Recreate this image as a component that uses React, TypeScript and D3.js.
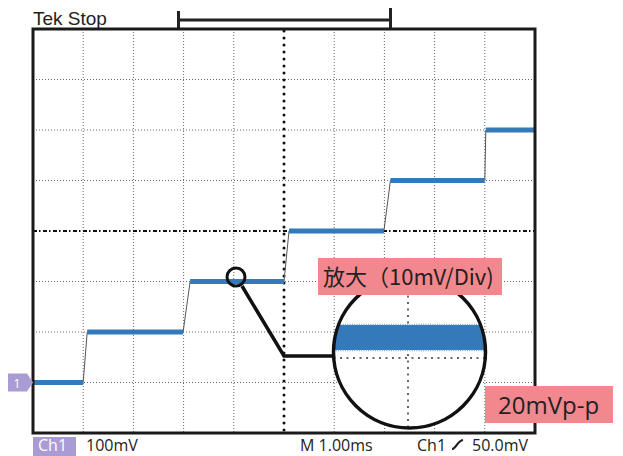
import { useEffect } from "react";
import * as d3 from "d3";

// step levels (mV) and where each plateau starts / ends (ms)
const levels = [0, 100, 200, 300, 400, 500];
const plateauStart = [0, 1.08, 3.13, 5.1, 7.12, 9.02];
const plateauEnd = [1.0, 2.99, 5.0, 6.99, 9.0, 10];

const timeTicks = [1, 2, 3, 4, 6, 7, 8, 9];
const voltTicks = [0, 100, 200, 400, 500, 600];
const centerTime = 5;
const centerVolt = 300;

// magnified noise band, 20mVp-p
const noiseBand = [-10, 10];

const W = 623;
const H = 456;

const App = () => {
  useEffect(() => {
    document.body.style.margin = "0";
  }, []);

  const x = d3.scaleLinear().domain([0, 10]).range([33, 535]);
  const y = d3.scaleLinear().domain([-100, 700]).range([433, 29]);

  const edgeLine = d3.line<[number, number]>()
    .x((d) => x(d[0]))
    .y((d) => y(d[1]));

  // magnified view
  const cx = 409.5;
  const cy = 352;
  const r = 76;
  const zy = d3.scaleLinear().domain([-10, 10]).range([350, 325]);

  const uiFont = "'Open Sans', 'Noto Sans', sans-serif";
  const cjkFont = "'Noto Sans CJK SC', 'Open Sans', sans-serif";

  return (
    <svg width={W} height={H} style={{ display: "block" }}>
      <rect width={W} height={H} fill="#fff" />

      {/* top header */}
      <text x={33} y={25} fontFamily="'Liberation Sans', Arial, sans-serif" fontSize={19} fill="#222">
        Tek Stop
      </text>
      <line x1={178} x2={391} y1={20} y2={20} stroke="#222" strokeWidth={3} />
      <line x1={178.5} x2={178.5} y1={11} y2={28} stroke="#222" strokeWidth={3} />
      <line x1={390.5} x2={390.5} y1={8} y2={28} stroke="#222" strokeWidth={3} />

      {/* grid */}
      {timeTicks.map((t) => (
        <line key={"vt" + t} x1={x(t)} x2={x(t)} y1={y(700)} y2={y(-100)}
          stroke="#666" strokeWidth={1} strokeDasharray="1,2" />
      ))}
      {voltTicks.map((v) => (
        <line key={"hv" + v} x1={x(0)} x2={x(10)} y1={y(v)} y2={y(v)}
          stroke="#666" strokeWidth={1} strokeDasharray="1,2" />
      ))}
      <line x1={x(0)} x2={x(10)} y1={y(centerVolt)} y2={y(centerVolt)}
        stroke="#111" strokeWidth={1.8} strokeDasharray="4,2,1.5,2.5" />
      <line x1={x(centerTime)} x2={x(centerTime)} y1={y(700) + 2} y2={y(-100) - 2}
        stroke="#111" strokeWidth={3} strokeLinecap="round" strokeDasharray="0,7" />

      {/* waveform edges */}
      {levels.slice(1).map((lv, i) => (
        <path key={"e" + i}
          d={edgeLine([[plateauEnd[i], levels[i]], [plateauStart[i + 1], lv]]) || ""}
          fill="none" stroke="#555" strokeWidth={1} />
      ))}
      {/* waveform plateaus */}
      {levels.map((lv, i) => (
        <line key={"p" + i} x1={x(plateauStart[i])} x2={x(plateauEnd[i])} y1={y(lv)} y2={y(lv)}
          stroke="#3479b9" strokeWidth={5} />
      ))}

      {/* frame */}
      <rect x={x(0)} y={y(700)} width={x(10) - x(0)} height={y(-100) - y(700)}
        fill="none" stroke="#1a1a1a" strokeWidth={3} />

      {/* channel marker */}
      <path d={`M8,${y(0) - 9} H27 L33,${y(0)} L27,${y(0) + 9} H8 Z`} fill="#a99bd3" />
      <text x={17} y={y(0) + 5} fontFamily={uiFont} fontSize={13} fill="#fff" textAnchor="middle">1</text>

      {/* connector to magnifier */}
      <circle cx={236} cy={277} r={9} fill="none" stroke="#111" strokeWidth={3} />
      <polyline points={`242,286 284,356 ${cx - r},356`} fill="none" stroke="#111" strokeWidth={3.5} />

      {/* magnifier */}
      <defs>
        <clipPath id="zoomClip">
          <circle cx={cx} cy={cy} r={r} />
        </clipPath>
      </defs>
      <circle cx={cx} cy={cy} r={r} fill="#fff" />
      <g clipPath="url(#zoomClip)">
        <line x1={cx - r} x2={cx + r} y1={358} y2={358} stroke="#666" strokeWidth={2}
          strokeDasharray="2,4.5" />
        <line x1={408} x2={408} y1={cy - r} y2={cy + r} stroke="#666" strokeWidth={2}
          strokeDasharray="2,4.5" />
        <rect x={cx - r} width={2 * r} y={zy(noiseBand[1])} height={zy(noiseBand[0]) - zy(noiseBand[1])}
          fill="#3479b9" />
        <line x1={cx - r} x2={cx + r} y1={zy(noiseBand[1]) - 0.5} y2={zy(noiseBand[1]) - 0.5}
          stroke="#7aa6d2" strokeWidth={1.5} strokeDasharray="1,1.3" />
        <line x1={cx - r} x2={cx + r} y1={zy(noiseBand[0]) + 0.5} y2={zy(noiseBand[0]) + 0.5}
          stroke="#7aa6d2" strokeWidth={1.5} strokeDasharray="1,1.3" />
      </g>
      <circle cx={cx} cy={cy} r={r} fill="none" stroke="#111" strokeWidth={3.5} />

      {/* labels */}
      <rect x={318} y={258} width={184} height={37} fill="#f2878d" />
      <text x={323} y={285} fontFamily={cjkFont} fontSize={22} fill="#222">放大（10mV/Div)</text>

      <rect x={485} y={386} width={128} height={37} fill="#f2878d" />
      <text x={498} y={414} fontFamily={uiFont} fontSize={24} fill="#222">20mVp-p</text>

      {/* bottom status line */}
      <rect x={33} y={437} width={43} height={19} fill="#a99bd3" />
      <text x={38} y={451} fontFamily={uiFont} fontSize={16} fill="#fff">Ch1</text>
      <text x={86} y={451} fontFamily={uiFont} fontSize={16} fill="#222">100mV</text>
      <text x={300} y={451} fontFamily={uiFont} fontSize={16} fill="#222">M 1.00ms</text>
      <text x={417} y={451} fontFamily={uiFont} fontSize={16} fill="#222">Ch1</text>
      <path d="M452,449 C456,449 457,441 463,440" fill="none" stroke="#222" strokeWidth={2.2} />
      <text x={472} y={451} fontFamily={uiFont} fontSize={16} fill="#222">50.0mV</text>
    </svg>
  );
};

export default App;
